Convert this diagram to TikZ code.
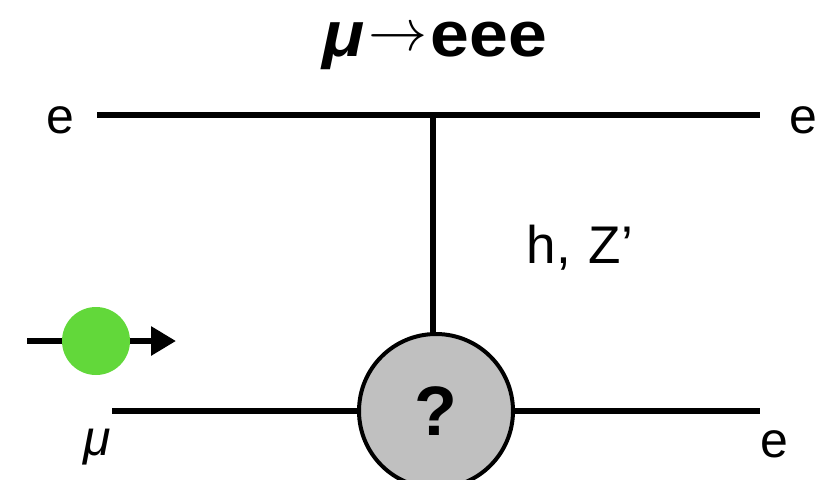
\RequirePackage{fix-cm}
\documentclass[tikz,border=0pt]{standalone}
\usepackage{fontspec}
\setmainfont{Liberation Sans}
\newfontfamily\titlefont[FakeStretch=1.09]{Liberation Sans}
\usetikzlibrary{arrows.meta}
\definecolor{dotgreen}{HTML}{62D83A}
\definecolor{blobgray}{HTML}{C0C0C0}
\begin{document}
\begin{tikzpicture}[x=1pt,y=-1pt,
  line/.style={line width=6pt},
  lbl/.style={anchor=base,inner sep=0pt,font=\fontsize{50}{58}\selectfont},
  blob/.style={circle,draw,line width=4pt,fill=blobgray,minimum size=154pt,inner sep=0pt,font=\fontsize{70}{80}\selectfont\bfseries},
  dot/.style={circle,fill=dotgreen,minimum size=68pt,inner sep=0pt}]
\useasboundingbox (0,0) rectangle (826,479);
% title
\node[anchor=base,inner sep=0pt,text height=36pt,text depth=10pt,font=\titlefont\fontsize{64}{70}\selectfont] (title) at (435,56)
  {{\bfseries\itshape μ}\hspace{4pt}\raisebox{6pt}{\fontsize{59}{60}\selectfont$\rightarrow$}\hspace{3pt}{\bfseries eee}};
% vertices / endpoints
\coordinate (tl) at (97,115);
\coordinate (tr) at (760,115);
\coordinate (tv) at (433,115);
\coordinate (bl) at (112,411);
\coordinate (br) at (760,411);
\node[blob] (q) at (436,411) {?};
% lines
\draw[line] (tl) -- (tr);
\draw[line] (tv) -- (tv |- q.north);
\draw[line] (bl) -- (q.west);
\draw[line] (q.east) -- (br);
% labels
\node[lbl] (eTL) at (60,133) {e};
\node[lbl] (eTR) at (803,133) {e};
\node[lbl] (mu) at (97,455) {\itshape μ};
\node[lbl] (eBR) at (774,457) {e};
\node[lbl,font=\fontsize{53}{60}\selectfont] (hz) at (580,263) {h,\hspace{3pt} Z’};
% moving particle
\coordinate (as) at (27,341);
\coordinate (ae) at (176,341);
\draw[line width=6pt,-{Triangle[length=25pt,width=28pt]}] (as) -- (ae);
\node[dot] (p) at (96,341) {};
\end{tikzpicture}
\end{document}
